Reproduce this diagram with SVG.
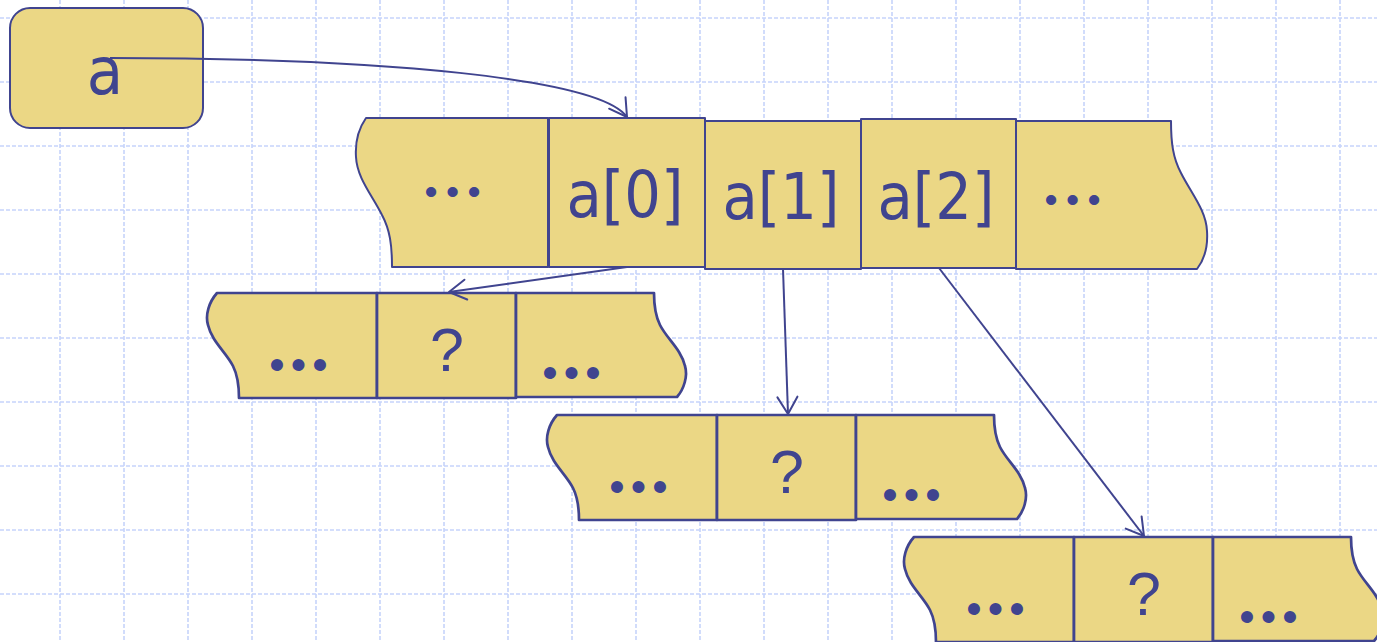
<svg xmlns="http://www.w3.org/2000/svg" width="1377" height="642" viewBox="0 0 1377 642">
  <style>
    .grid line { stroke: #c6d4fb; stroke-width: 1.6; stroke-dasharray: 4 2; }
    .cell { fill: #ebd785; stroke: #40448f; stroke-width: 2; stroke-linejoin: round; }
    .sub .cell { stroke-width: 2.7; }
    .lbl { fill: #40448f; font-family: "DejaVu Sans Condensed", "DejaVu Sans", sans-serif; font-stretch: condensed; font-size: 64px; text-anchor: middle; }
    .q { fill: #40448f; font-family: "Liberation Sans", Arial, sans-serif; font-size: 61px; text-anchor: middle; }
    .dots { fill: #40448f; font-family: "Liberation Sans", Arial, sans-serif; font-size: 44px; letter-spacing: 6.1px; }
    .dots-sm { fill: #40448f; font-family: "Liberation Sans", Arial, sans-serif; font-size: 37.5px; letter-spacing: 8.4px; }
    .conn path { fill: none; stroke: #40448f; stroke-width: 2; marker-end: url(#open); }
  </style>
  <defs>
    <marker id="open" markerUnits="userSpaceOnUse" orient="auto" markerWidth="40" markerHeight="40" viewBox="-20 -20 40 40" refX="0" refY="0" overflow="visible">
      <path d="M-17,-10 L0,0 L-17,10" fill="none" stroke="#40448f" stroke-width="2" stroke-linecap="round" stroke-linejoin="round"/>
    </marker>
    <!-- three-cell sub-array, drawn at its first position -->
    <g id="subarray" class="sub">
      <path class="cell" d="M217,293 L377,293 L377,398 L239,398 C239,385 238,376 233,366 C226,352 212,342 208,325 C205,315 209,302 217,293 Z"/>
      <rect class="cell" x="377" y="293" width="139" height="105"/>
      <path class="cell" d="M516,293 L654,293 C654,306 655,315 660,325 C667,339 681,349 685,366 C688,376 684,389 677,397 L516,397 Z"/>
      <text class="dots" x="269.3" y="379.6">•••</text>
      <text class="q" x="447" y="371">?</text>
      <text class="dots" x="542.3" y="387.6">•••</text>
    </g>
  </defs>

  <rect width="1377" height="642" fill="#ffffff"/>

  <!-- background grid -->
  <g class="grid">
    <line x1="60" y1="0" x2="60" y2="642"/><line x1="124" y1="0" x2="124" y2="642"/>
    <line x1="188" y1="0" x2="188" y2="642"/><line x1="252" y1="0" x2="252" y2="642"/>
    <line x1="316" y1="0" x2="316" y2="642"/><line x1="380" y1="0" x2="380" y2="642"/>
    <line x1="444" y1="0" x2="444" y2="642"/><line x1="508" y1="0" x2="508" y2="642"/>
    <line x1="572" y1="0" x2="572" y2="642"/><line x1="636" y1="0" x2="636" y2="642"/>
    <line x1="700" y1="0" x2="700" y2="642"/><line x1="764" y1="0" x2="764" y2="642"/>
    <line x1="828" y1="0" x2="828" y2="642"/><line x1="892" y1="0" x2="892" y2="642"/>
    <line x1="956" y1="0" x2="956" y2="642"/><line x1="1020" y1="0" x2="1020" y2="642"/>
    <line x1="1084" y1="0" x2="1084" y2="642"/><line x1="1148" y1="0" x2="1148" y2="642"/>
    <line x1="1212" y1="0" x2="1212" y2="642"/><line x1="1276" y1="0" x2="1276" y2="642"/>
    <line x1="1340" y1="0" x2="1340" y2="642"/>
    <line x1="0" y1="18" x2="1377" y2="18"/><line x1="0" y1="82" x2="1377" y2="82"/>
    <line x1="0" y1="146" x2="1377" y2="146"/><line x1="0" y1="210" x2="1377" y2="210"/>
    <line x1="0" y1="274" x2="1377" y2="274"/><line x1="0" y1="338" x2="1377" y2="338"/>
    <line x1="0" y1="402" x2="1377" y2="402"/><line x1="0" y1="466" x2="1377" y2="466"/>
    <line x1="0" y1="530" x2="1377" y2="530"/><line x1="0" y1="594" x2="1377" y2="594"/>
  </g>

  <!-- pointer variable -->
  <g id="node-a">
    <rect class="cell" x="10" y="8" width="193" height="120" rx="20" ry="20"/>
    <text class="lbl" x="105" y="94" style="font-size:66px">a</text>
  </g>

  <!-- main array -->
  <g id="array-a">
    <g id="cell-a-left">
      <path class="cell" d="M366,118 L548,118 L548,267 L392,267 C392,245 390,230 382,215 C372,195 357,178 356,157 C355,142 359,128 366,118 Z"/>
      <text class="dots-sm" x="424.4" y="204.4">•••</text>
    </g>
    <g id="cell-a0">
      <rect class="cell" x="549" y="118" width="156" height="149"/>
      <text class="lbl" x="625" y="217">a[0]</text>
    </g>
    <g id="cell-a1">
      <rect class="cell" x="705" y="121" width="156" height="148"/>
      <text class="lbl" x="781" y="219">a[1]</text>
    </g>
    <g id="cell-a2">
      <rect class="cell" x="861" y="119" width="155" height="149"/>
      <text class="lbl" x="936" y="219">a[2]</text>
    </g>
    <g id="cell-a-right">
      <path class="cell" d="M1016,121 L1171,121 C1171,143 1173,158 1181,173 C1191,193 1206,210 1207,231 C1208,246 1204,260 1197,269 L1016,269 Z"/>
      <text class="dots-sm" x="1044.4" y="212.4">•••</text>
    </g>
  </g>

  <!-- row arrays pointed to by a[0], a[1], a[2] -->
  <g id="row-0"><use href="#subarray"/></g>
  <g id="row-1"><use href="#subarray" transform="translate(340,122)"/></g>
  <g id="row-2"><use href="#subarray" transform="translate(697,244)"/></g>

  <!-- connectors -->
  <g class="conn" id="connectors">
    <path d="M110,58 C380,58 600,78 627,117"/>
    <path d="M627,267 L449,292"/>
    <path d="M783,269 L788,414"/>
    <path d="M939,268 L1144,536"/>
  </g>
</svg>
